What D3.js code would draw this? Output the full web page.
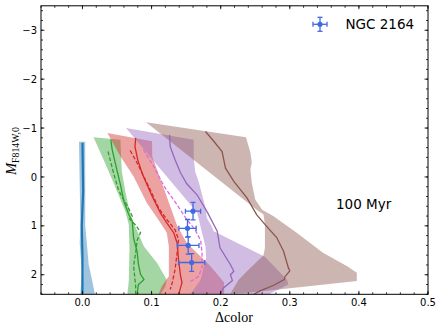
<!DOCTYPE html>
<html>
<head>
<meta charset="utf-8">
<script src="https://d3js.org/d3.v7.min.js"></script>
<style>
  body { margin: 0; background: #fff; }
  text { fill: #000; }
</style>
</head>
<body>
<svg width="443" height="331"></svg>
<script>
// axis ticks
const xTicks = [0, 0.1, 0.2, 0.3, 0.4, 0.5];
const yTicks = [-3, -2, -1, 0, 1, 2];

// bands: [color, mag] points, left edge and right edge, top to bottom
const blueLeft = [[-0.005, -0.72], [-0.003, 1.0], [-0.004, 1.35], [-0.001, 1.93], [-0.003, 2.4]];
const blueRight = [[0.004, -0.72], [0.004, 1.0], [0.006, 1.3], [0.009, 1.79], [0.014, 2.12], [0.018, 2.4]];
const blueMid = [[0.0, -0.7], [0.001, 0.3], [-0.001, 1.0], [0.0, 1.6], [0.0, 2.4]];

const greenLeft = [[0.016, -0.81], [0.036, -0.18], [0.050, 0.29], [0.062, 0.70], [0.067, 0.97], [0.068, 1.48], [0.067, 2.13], [0.065, 2.4]];
const greenRight = [[0.055, -0.76], [0.056, -0.39], [0.057, -0.11], [0.062, 0.29], [0.067, 0.63], [0.072, 0.87], [0.089, 1.42], [0.108, 1.76], [0.122, 2.10], [0.120, 2.24], [0.113, 2.4]];
const greenSolid = [[0.041, -0.76], [0.043, -0.56], [0.048, -0.25], [0.055, 0.16], [0.060, 0.5], [0.067, 0.77], [0.072, 0.9], [0.074, 1.25], [0.079, 1.52], [0.081, 1.79], [0.084, 1.99], [0.089, 2.1], [0.081, 2.2], [0.079, 2.4]];
const greenDashed = [[0.037, -0.52], [0.045, -0.08], [0.052, 0.26], [0.057, 0.4], [0.066, 0.62], [0.072, 0.8], [0.068, 0.86], [0.078, 1.0], [0.084, 1.14], [0.079, 1.3], [0.077, 1.55], [0.074, 1.82], [0.077, 2.23], [0.077, 2.4]];

const redLeft = [[0.036, -0.90], [0.055, -0.42], [0.074, -0.01], [0.093, 0.53], [0.113, 0.94], [0.122, 1.14], [0.125, 1.42], [0.125, 2.03], [0.115, 2.23], [0.110, 2.4]];
const redRight = [[0.1007, -0.73], [0.101, -0.42], [0.122, 0.40], [0.137, 1.0], [0.151, 1.35], [0.185, 1.82], [0.205, 2.16], [0.205, 2.4]];
const redSolid = [[0.077, -0.80], [0.076, -0.62], [0.080, -0.35], [0.087, -0.05], [0.101, 0.40], [0.113, 0.74], [0.122, 0.94], [0.132, 1.14], [0.137, 1.35], [0.139, 1.69], [0.142, 2.03], [0.144, 2.16], [0.140, 2.36], [0.139, 2.4]];
const redDashed = [[0.069, -0.54], [0.079, -0.29], [0.098, 0.26], [0.110, 0.63], [0.122, 0.87], [0.134, 1.08], [0.139, 1.28], [0.137, 1.55], [0.134, 1.89], [0.130, 2.16], [0.127, 2.3]];
const magentaDashed = [[0.088, -0.56], [0.103, -0.22], [0.118, 0.19], [0.135, 0.53], [0.150, 0.85], [0.163, 1.08], [0.171, 1.30], [0.173, 1.55], [0.173, 1.85], [0.168, 2.03], [0.161, 2.1], [0.156, 2.14]];

const purpleLeft = [[0.063, -1.0], [0.142, 0.33], [0.166, 0.73], [0.173, 1.14], [0.178, 1.42], [0.179, 1.65], [0.171, 2.1], [0.156, 2.4]];
const purpleRight = [[0.161, -0.76], [0.161, -0.39], [0.163, -0.11], [0.168, 0.09], [0.173, 0.36], [0.178, 0.63], [0.180, 0.84], [0.187, 1.01], [0.190, 1.11], [0.264, 1.63], [0.296, 2.1], [0.298, 2.2], [0.270, 2.4]];
const purpleSolid = [[0.126, -0.86], [0.127, -0.62], [0.134, -0.35], [0.142, -0.08], [0.151, 0.14], [0.166, 0.37], [0.181, 0.73], [0.195, 1.11], [0.199, 1.45], [0.214, 1.79], [0.219, 1.93], [0.214, 2.0], [0.217, 2.12], [0.204, 2.27], [0.199, 2.4]];

const brownLeft = [[0.092, -1.12], [0.253, 0.68], [0.262, 0.77], [0.264, 0.97], [0.264, 1.45], [0.262, 1.60], [0.238, 1.93], [0.226, 2.1], [0.214, 2.39]];
const brownRight = [[0.2366, -0.81], [0.243, -0.50], [0.245, -0.29], [0.243, -0.15], [0.245, 0.12], [0.250, 0.46], [0.260, 0.67], [0.276, 0.80], [0.310, 1.14], [0.348, 1.55], [0.3825, 1.82], [0.397, 1.96], [0.397, 2.13], [0.240, 2.37]];
const brownSolid = [[0.178, -0.93], [0.190, -0.73], [0.202, -0.52], [0.207, -0.18], [0.219, 0.09], [0.238, 0.43], [0.252, 0.77], [0.264, 0.97], [0.281, 1.24], [0.291, 1.52], [0.298, 1.86], [0.300, 1.92], [0.293, 2.04], [0.292, 2.10], [0.276, 2.22], [0.257, 2.33], [0.248, 2.4]];

// NGC 2164 measurements
const clusterColor = [0.160, 0.152, 0.153, 0.158];
const clusterMag = [0.70, 1.05, 1.40, 1.75];
const clusterColorErr = [0.011, 0.0125, 0.0156, 0.019];
const clusterMagErr = [0.18, 0.18, 0.18, 0.18];

const svg = d3.select("svg");
const pl = 41, pr = 428, pt = 5.8, pb = 294.3;

const x = d3.scaleLinear().domain([-0.06, 0.5]).range([pl, pr]);
const y = d3.scaleLinear().domain([-3.5, 2.4]).range([pt, pb]);

svg.append("defs").append("clipPath").attr("id", "clip")
  .append("rect").attr("x", pl).attr("y", pt)
  .attr("width", pr - pl).attr("height", pb - pt);

const plot = svg.append("g").attr("clip-path", "url(#clip)");
const line = d3.line().x(d => x(d[0])).y(d => y(d[1]));

const bands = [
  [blueLeft, blueRight, "#1f77b4"],
  [greenLeft, greenRight, "#2ca02c"],
  [redLeft, redRight, "#d62728"],
  [purpleLeft, purpleRight, "#9467bd"],
  [brownLeft, brownRight, "#8c564b"]
];
bands.forEach(b => {
  const pts = b[0].concat(b[1].slice().reverse());
  plot.append("path").attr("d", line(pts) + "Z")
    .attr("fill", b[2]).attr("fill-opacity", 0.43).attr("stroke", "none");
});

const curves = [
  [blueMid, "#1f77b4", 2.2, null],
  [greenSolid, "#2ca02c", 1.3, null],
  [greenDashed, "#2ca02c", 1.3, "4,2"],
  [redSolid, "#d62728", 1.3, null],
  [redDashed, "#d62728", 1.3, "4,2"],
  [magentaDashed, "#da6be0", 1.3, "4,2"],
  [purpleSolid, "#9467bd", 1.3, null],
  [brownSolid, "#8c564b", 1.3, null]
];
curves.forEach(c => {
  plot.append("path").attr("d", line(c[0]))
    .attr("fill", "none").attr("stroke", c[1]).attr("stroke-width", c[2])
    .attr("stroke-dasharray", c[3]);
});

// error bars
const pts = clusterColor.map((c, i) => ({c: c, m: clusterMag[i], ec: clusterColorErr[i], em: clusterMagErr[i]}));
const eb = plot.append("g").attr("stroke", "#4169e1").attr("stroke-width", 1.3);
pts.forEach(p => {
  const cx = x(p.c), cy = y(p.m);
  const x0 = x(p.c - p.ec), x1 = x(p.c + p.ec), y0 = y(p.m - p.em), y1 = y(p.m + p.em);
  eb.append("line").attr("x1", x0).attr("x2", x1).attr("y1", cy).attr("y2", cy);
  eb.append("line").attr("x1", cx).attr("x2", cx).attr("y1", y0).attr("y2", y1);
  [x0, x1].forEach(v => eb.append("line").attr("x1", v).attr("x2", v).attr("y1", cy - 2.5).attr("y2", cy + 2.5));
  [y0, y1].forEach(v => eb.append("line").attr("x1", cx - 2.5).attr("x2", cx + 2.5).attr("y1", v).attr("y2", v));
  eb.append("circle").attr("cx", cx).attr("cy", cy).attr("r", 2.6).attr("fill", "#4169e1").attr("stroke", "none");
});

// frame and ticks
svg.append("rect").attr("x", pl).attr("y", pt).attr("width", pr - pl).attr("height", pb - pt)
  .attr("fill", "none").attr("stroke", "#000").attr("stroke-width", 1);

const xMinor = d3.range(-0.06, 0.5001, 0.02).map(v => +v.toFixed(2));
const yMinor = d3.range(-3.4, 2.4001, 0.2).map(v => +v.toFixed(1));
const tk = svg.append("g").attr("stroke", "#000").attr("stroke-width", 0.8);
xTicks.forEach(v => {
  tk.append("line").attr("x1", x(v)).attr("x2", x(v)).attr("y1", pb).attr("y2", pb - 3.5);
  tk.append("line").attr("x1", x(v)).attr("x2", x(v)).attr("y1", pt).attr("y2", pt + 3.5);
});
xMinor.forEach(v => {
  tk.append("line").attr("x1", x(v)).attr("x2", x(v)).attr("y1", pb).attr("y2", pb - 2);
  tk.append("line").attr("x1", x(v)).attr("x2", x(v)).attr("y1", pt).attr("y2", pt + 2);
});
yTicks.forEach(v => {
  tk.append("line").attr("x1", pl).attr("x2", pl + 3.5).attr("y1", y(v)).attr("y2", y(v));
  tk.append("line").attr("x1", pr).attr("x2", pr - 3.5).attr("y1", y(v)).attr("y2", y(v));
});
yMinor.forEach(v => {
  tk.append("line").attr("x1", pl).attr("x2", pl + 2).attr("y1", y(v)).attr("y2", y(v));
  tk.append("line").attr("x1", pr).attr("x2", pr - 2).attr("y1", y(v)).attr("y2", y(v));
});

const fmt = v => (v < 0 ? "\u2212" : "") + Math.abs(v);
svg.append("g").selectAll("text").data(xTicks).enter().append("text")
  .attr("x", d => x(d)).attr("y", pb + 12)
  .attr("text-anchor", "middle").attr("font-family", "DejaVu Sans").attr("font-size", 10)
  .text(d => d.toFixed(1));
svg.append("g").selectAll("text").data(yTicks).enter().append("text")
  .attr("x", pl - 4).attr("y", d => y(d) + 3.6)
  .attr("text-anchor", "end").attr("font-family", "DejaVu Sans").attr("font-size", 10)
  .text(d => fmt(d));

// axis labels
svg.append("text").attr("x", (pl + pr) / 2 - 0.5).attr("y", 322)
  .attr("text-anchor", "middle").attr("font-family", "Liberation Serif").attr("font-size", 14)
  .text("\u0394color");
const yl = svg.append("text").attr("transform", "translate(16,151) rotate(-90)")
  .attr("text-anchor", "middle").attr("font-family", "Liberation Serif").attr("font-size", 14.5);
yl.append("tspan").attr("font-style", "italic").text("M");
yl.append("tspan").attr("font-size", 9.8).attr("dy", 2.5).text("F814W,0");

// legend
const lg = svg.append("g").attr("stroke", "#4169e1").attr("stroke-width", 1.3);
const lx = 320, ly = 24.3;
lg.append("line").attr("x1", lx - 7).attr("x2", lx + 7).attr("y1", ly).attr("y2", ly);
lg.append("line").attr("x1", lx).attr("x2", lx).attr("y1", ly - 7).attr("y2", ly + 7);
[lx - 7, lx + 7].forEach(v => lg.append("line").attr("x1", v).attr("x2", v).attr("y1", ly - 2.5).attr("y2", ly + 2.5));
[ly - 7, ly + 7].forEach(v => lg.append("line").attr("x1", lx - 2.5).attr("x2", lx + 2.5).attr("y1", v).attr("y2", v));
lg.append("circle").attr("cx", lx).attr("cy", ly).attr("r", 2.6).attr("fill", "#4169e1").attr("stroke", "none");
svg.append("text").attr("x", 345.5).attr("y", 29.3)
  .attr("font-family", "DejaVu Sans").attr("font-size", 13.5).text("NGC 2164");

svg.append("text").attr("x", 336).attr("y", 208.5)
  .attr("font-family", "DejaVu Sans").attr("font-size", 13.5).text("100 Myr");
</script>
</body>
</html>
